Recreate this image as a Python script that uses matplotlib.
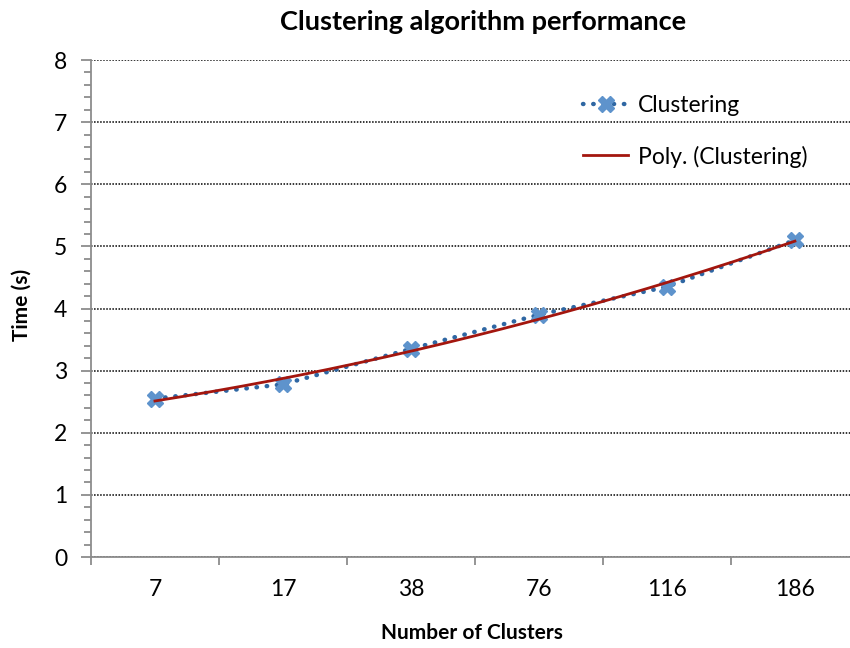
"""
Clustering algorithm performance: time per number of clusters with a
2nd order polynomial trend line (Excel style chart)
"""

import matplotlib
matplotlib.use('Agg')
import matplotlib.pyplot as plt
from matplotlib.ticker import MultipleLocator, FixedLocator
import numpy as np

# Data
clusters = ['7', '17', '38', '76', '116', '186']
times = [2.55, 2.78, 3.35, 3.90, 4.35, 5.10]

plt.rcParams['font.family'] = ['Lato', 'DejaVu Sans']


def main():

    fig = plt.figure(figsize=(8.5, 6.48), dpi=100)
    ax = fig.add_axes([0.107, 0.1404, 0.9035, 0.767])

    x = np.arange(1, len(clusters) + 1)

    # Series: dotted line with X markers
    ax.plot(x, times, color='#2f67a3', lw=3.2, ls=(0, (0.1, 2.2)),
            dash_capstyle='round', marker='X', ms=12, mfc='#5e93cc',
            mec='#5e93cc', zorder=3, label='Clustering')

    # Polynomial (order 2) trend line, as Excel computes it
    coef = np.polyfit(x, times, 2)
    xs = np.linspace(x[0], x[-1], 200)
    ax.plot(xs, np.polyval(coef, xs), color='#a3160e', lw=2, zorder=4,
            label='Poly. (Clustering)')

    ax.set_xlim(0.5, len(clusters) + 0.5)
    ax.set_ylim(0, 8)

    # Axes look
    for s in ['top', 'right']:
        ax.spines[s].set_visible(False)
    for s in ['left', 'bottom']:
        ax.spines[s].set_color('#8c8c8c')
        ax.spines[s].set_linewidth(1.3)

    ax.yaxis.set_major_locator(MultipleLocator(1))
    ax.yaxis.set_minor_locator(MultipleLocator(0.2))
    ax.tick_params(axis='y', which='major', length=7, width=1.3,
                   color='#8c8c8c', labelsize=16.5, pad=10)
    ax.tick_params(axis='y', which='minor', length=5, width=1.3,
                   color='#8c8c8c')

    # Category labels at centres, tick marks at category boundaries
    ax.xaxis.set_major_locator(FixedLocator(x))
    ax.set_xticklabels(clusters)
    ax.xaxis.set_minor_locator(FixedLocator(np.arange(0.5, len(clusters) + 1)))
    ax.tick_params(axis='x', which='major', length=0, labelsize=16.5, pad=16)
    ax.tick_params(axis='x', which='minor', length=6, width=1.3,
                   color='#8c8c8c')

    ax.grid(axis='y', which='major', color='black', ls=(0, (1, 1)), lw=1.1)
    ax.set_axisbelow(True)

    fig.text(483 / 850, 1 - 22 / 648, 'Clustering algorithm performance',
             ha='center', va='center', fontsize=19.5, fontweight='bold')
    fig.text(472 / 850, 1 - 633 / 648, 'Number of Clusters',
             ha='center', va='center', fontsize=15, fontweight='bold')
    fig.text(22 / 850, 1 - 305 / 648, 'Time (s)', rotation=90,
             ha='center', va='center', fontsize=15, fontweight='bold')

    ax.legend(loc='upper left', bbox_to_anchor=(562 / 850, 1 - 74 / 648),
              bbox_transform=fig.transFigure, frameon=False, fontsize=16.5,
              numpoints=1, handlelength=2.0, labelspacing=1.3,
              handletextpad=0.4)

    fig.savefig('out.png', dpi=100)
    plt.close()


if __name__ == '__main__':
    main()
